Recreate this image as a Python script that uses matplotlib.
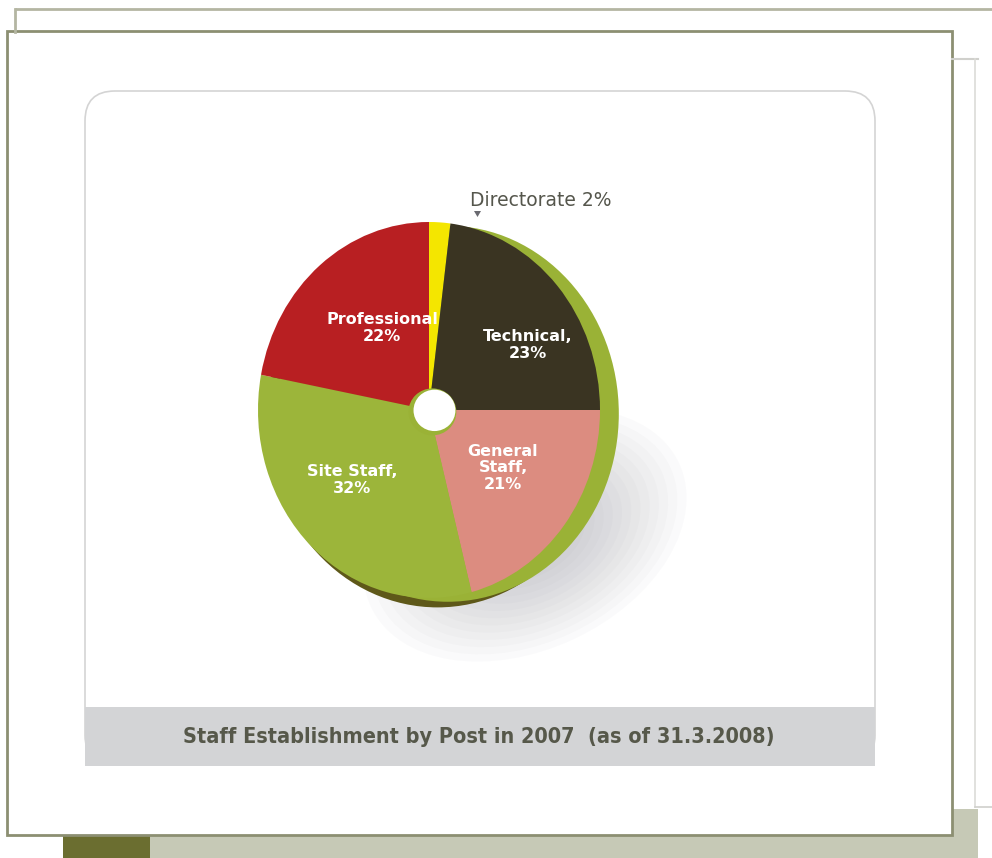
import matplotlib.pyplot as plt
from matplotlib.patches import Rectangle, FancyBboxPatch, Ellipse, Polygon

# staff establishment by post, 2007 (percent)
posts = ['Directorate', 'Technical', 'General Staff', 'Site Staff', 'Professional']
shares = [2, 23, 21, 32, 22]
colours = ['#f4e600', '#3a3422', '#dc8c80', '#9cb53a', '#b81f22']
title = 'Staff Establishment by Post in 2007  (as of 31.3.2008)'

W, H = 992, 858
fig = plt.figure(figsize=(W / 100, H / 100), dpi=100)
fig.patch.set_facecolor('white')


def pixel_axes(z):
    ax = fig.add_axes([0, 0, 1, 1], zorder=z)
    ax.set_xlim(0, W)
    ax.set_ylim(H, 0)
    ax.axis('off')
    ax.patch.set_alpha(0)
    return ax


# page decoration in pixel units
bg = pixel_axes(0)

frame = '#8c8f72'
bg.plot([15, W], [9, 9], color='#b4b6a2', lw=2, solid_capstyle='butt')
bg.plot([15, 15], [9, 32], color='#b4b6a2', lw=2)
bg.plot([952, 978], [59, 59], color='#d0d0cc', lw=1.5)
bg.plot([975, 975], [59, 807], color='#dcdcd8', lw=1.2)
bg.plot([975, W], [807, 807], color='#d0d0cc', lw=1.2)
bg.add_patch(Rectangle((63, 809), 915, 60, facecolor='#c6c9b6', edgecolor='none'))
bg.add_patch(Rectangle((63, 835), 87, 30, facecolor='#6b6e30', edgecolor='none'))
bg.add_patch(Rectangle((7, 31), 945, 804, facecolor='white', edgecolor=frame, lw=2))

# inner card with rounded top and caption band
bg.add_patch(FancyBboxPatch((85, 91), 790, 674, boxstyle='round,pad=0,rounding_size=30',
                            facecolor='white', edgecolor='#d4d4d4', lw=1.2))
bg.add_patch(Rectangle((85, 707), 790, 59, facecolor='#d3d4d6', edgecolor='none'))
bg.text(479, 737, title, ha='center', va='center', fontsize=15.5, fontweight='bold',
        color='#56584a', family='DejaVu Sans', fontstretch='condensed')

# soft drop shadow under the pie
for k in range(16):
    f = 1 - k / 16
    bg.add_patch(Ellipse((525, 535), 310 * f + 30, 210 * f + 20, angle=-25,
                         facecolor='#7e7e8a', edgecolor='none', alpha=0.03))

# pie face with its rim
pax = fig.add_axes([258 / W, 1 - 598 / H, 342 / W, 376 / H], zorder=1)
pax.add_patch(Ellipse((0.05, -0.05), 2, 2, facecolor='#5e5819', edgecolor='none', clip_on=False))
pax.add_patch(Ellipse((0.11, -0.02), 2, 2, facecolor='#9ab236', edgecolor='none', clip_on=False))
pax.pie(shares, colors=colours, startangle=90, counterclock=False, radius=1,
        wedgeprops=dict(linewidth=0))
pax.set_aspect('auto')
pax.set_xlim(-1, 1)
pax.set_ylim(-1, 1)
pax.axis('off')

hx, hy = 0.02, -0.01
pax.add_patch(Ellipse((hx, hy), 0.28, 0.25, facecolor='#9ab236', edgecolor='none'))
pax.add_patch(Ellipse((hx + 0.012, hy + 0.008), 0.245, 0.22, facecolor='white', edgecolor='none'))

# slice labels on top
top = pixel_axes(2)
lab = dict(ha='center', va='center', color='white', fontsize=11.5, fontweight='bold',
           linespacing=1.15)
top.text(382, 328, f'{posts[4]}\n{shares[4]}%', **lab)
top.text(528, 345, f'{posts[1]},\n{shares[1]}%', **lab)
top.text(503, 468, 'General\nStaff,\n' + f'{shares[2]}%', **lab)
top.text(352, 480, f'{posts[3]},\n{shares[3]}%', **lab)

top.text(470, 200, f'{posts[0]} {shares[0]}%', ha='left', va='center', fontsize=13.5,
         color='#55564c')
top.add_patch(Polygon([[474, 211], [481, 211], [477.5, 217]], closed=True,
                      facecolor='#6a6a70', edgecolor='none'))

fig.savefig('out.png', dpi=100)
